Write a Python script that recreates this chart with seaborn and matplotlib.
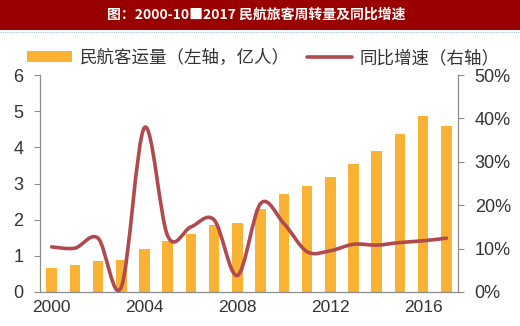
import numpy as np
import pandas as pd
import matplotlib
matplotlib.use("Agg")
import matplotlib.pyplot as plt
import seaborn as sns
from matplotlib.path import Path
from matplotlib.patches import PathPatch, Patch, Rectangle
from matplotlib.lines import Line2D
from matplotlib.ticker import FixedLocator, FuncFormatter

years = [str(y) for y in range(2000, 2018)]
passengers = [0.67, 0.75, 0.85, 0.88, 1.2, 1.4, 1.6, 1.85, 1.92, 2.3, 2.7, 2.93,
              3.19, 3.55, 3.9, 4.36, 4.87, 4.6]
growth = [10.4, 10.1, 12.4, 1.1, 37.9, 12.9, 15.0, 16.6, 3.8, 20.4, 15.8, 9.3,
          9.5, 11.0, 10.8, 11.4, 11.8, 12.4]
title = "图：2000-10■2017 民航旅客周转量及同比增速"
bar_label = "民航客运量（左轴，亿人）"
line_label = "同比增速（右轴）"
year_ticks = ["2000", "2004", "2008", "2012", "2016"]

sns.set_theme(style="white")
plt.rcParams['font.family'] = ['Liberation Sans', 'Noto Sans CJK SC', 'DejaVu Sans']

BAR = "#F9B233"
LINE = "#B04A4E"
TXT = "#333333"
AX = "#8C8C8C"

fig = plt.figure(figsize=(5.2, 3.26), dpi=100)
# title bar
fig.add_artist(Rectangle((0, 1 - 30/326), 1, 30/326, transform=fig.transFigure,
                         facecolor="#990000", edgecolor="none"))
fig.add_artist(Line2D([0, 1], [1 - 31.5/326]*2, transform=fig.transFigure,
                      color="#A9C4E0", lw=0.8, ls=(0, (1, 1))))
fig.text(0.493, 1 - 15/326, title, color="white", ha="center", va="center",
         fontsize=10, fontweight="bold", family=['Noto Sans CJK SC', 'DejaVu Sans'])

ax = fig.add_axes([40/520, 1 - 292/326, (458 - 40)/520, (292 - 75)/326])
df = pd.DataFrame({"year": years, "passengers": passengers, "growth": growth})
sns.barplot(data=df, x="year", y="passengers", color=BAR, width=0.45,
            saturation=1, ax=ax, edgecolor="none")
ax.set_xlim(-0.5, len(years) - 0.5)
ax.set_ylim(0, 6)
ax.set_yticks(range(0, 7))
ax.set_xlabel("")
ax.set_ylabel("")
ax.xaxis.set_major_locator(FixedLocator([years.index(y) for y in year_ticks]))
ax.set_xticklabels(year_ticks)
ax.xaxis.set_minor_locator(FixedLocator(np.arange(-0.5, len(years), 1.0)))
ax.tick_params(axis="x", which="major", length=0, labelsize=12.5, labelcolor=TXT, pad=6)
ax.tick_params(axis="x", which="minor", length=5, width=0.8, color=AX, direction="out")
ax.tick_params(axis="y", length=4, width=0.8, color=AX, labelsize=13, labelcolor=TXT, pad=8)
for s in ["top", "right"]:
    ax.spines[s].set_visible(False)
for s in ["left", "bottom"]:
    ax.spines[s].set_color(AX)
    ax.spines[s].set_linewidth(0.9)

ax2 = ax.twinx()
ax2.set_ylim(0, 50)
ax2.set_yticks(range(0, 51, 10))
ax2.yaxis.set_major_formatter(FuncFormatter(lambda v, p: f"{int(v)}%"))
ax2.tick_params(axis="y", length=4, width=0.8, color=AX, labelsize=13, labelcolor=TXT, pad=8)
for s in ["top", "left", "bottom"]:
    ax2.spines[s].set_visible(False)
ax2.spines["right"].set_color(AX)
ax2.spines["right"].set_linewidth(0.9)

# smoothed line (Excel-like Bezier through the data points)
xs = np.arange(len(growth), dtype=float)
ys = np.array(growth, dtype=float)
n = len(xs)
verts = [(xs[0], ys[0])]
codes = [Path.MOVETO]
for i in range(n - 1):
    p0 = np.array([xs[max(i - 1, 0)], ys[max(i - 1, 0)]])
    p1 = np.array([xs[i], ys[i]])
    p2 = np.array([xs[i + 1], ys[i + 1]])
    p3 = np.array([xs[min(i + 2, n - 1)], ys[min(i + 2, n - 1)]])
    c1 = p1 + (p2 - p0) / 6
    c2 = p2 - (p3 - p1) / 6
    verts += [tuple(c1), tuple(c2), tuple(p2)]
    codes += [Path.CURVE4] * 3
ax2.add_patch(PathPatch(Path(verts, codes), facecolor="none", edgecolor=LINE,
                        lw=2.6, capstyle="round", joinstyle="round"))

handles = [Patch(facecolor=BAR, edgecolor="none"),
           Line2D([0], [0], color=LINE, lw=2.6)]
fig.legend(handles, [bar_label, line_label], loc="center",
           bbox_to_anchor=(0.506, 1 - 58/326), ncol=2, frameon=False,
           prop={"family": ['Noto Sans CJK SC', 'DejaVu Sans'], "size": 12.6},
           labelcolor=TXT, handlelength=2.6, handleheight=0.6,
           columnspacing=1.0, handletextpad=0.4, borderaxespad=0, borderpad=0)

fig.savefig("out.png", dpi=100)
